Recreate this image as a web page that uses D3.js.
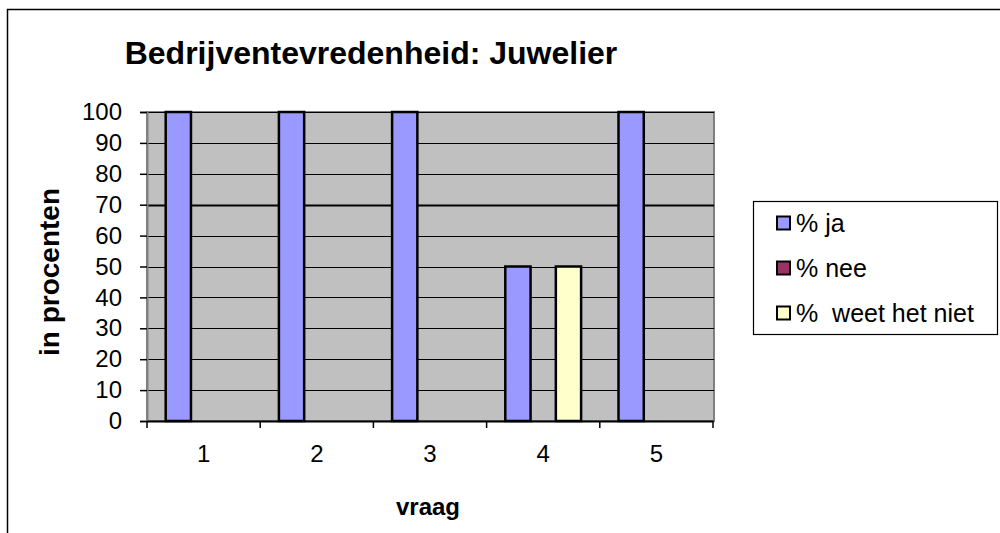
<!DOCTYPE html>
<html>
<head>
<meta charset="utf-8">
<script src="https://cdn.jsdelivr.net/npm/d3@7"></script>
<style>
  body { margin: 0; background: #fff; }
  text { font-family: Arial, "Liberation Sans", sans-serif; fill: #000; }
</style>
</head>
<body>
<div id="chart"></div>
<script>
// data
const vragen = ["1", "2", "3", "4", "5"];
const series = ["% ja", "% nee", "%  weet het niet"];
const ja = [100, 100, 100, 50, 100];
const nee = [0, 0, 0, 0, 0];
const weetNiet = [0, 0, 0, 50, 0];
const yTicks = [0, 10, 20, 30, 40, 50, 60, 70, 80, 90, 100];
const colors = ["#9999ff", "#993366", "#ffffcc"];

const width = 1000, height = 533;
const plot = {left: 147, right: 713, top: 112, bottom: 421};

const svg = d3.select("#chart").append("svg")
    .attr("width", width)
    .attr("height", height);

// outer frame
svg.append("rect")
    .attr("x", 7.5).attr("y", 9.5)
    .attr("width", 1100).attr("height", 600)
    .attr("fill", "none").attr("stroke", "#000").attr("stroke-width", 1.5);

// title
svg.append("text")
    .attr("x", 371).attr("y", 64)
    .attr("text-anchor", "middle")
    .style("font-size", "32px").style("font-weight", "bold")
    .text("Bedrijventevredenheid: Juwelier");

// scales
const x = d3.scaleBand().domain(vragen).range([plot.left, plot.right]);
const xSub = d3.scaleBand().domain(series).range([0, x.bandwidth()]).paddingOuter(0.74);
const y = d3.scaleLinear().domain([0, 100]).range([plot.bottom, plot.top]);

// plot area
svg.append("rect")
    .attr("x", plot.left).attr("y", plot.top)
    .attr("width", plot.right - plot.left + 1).attr("height", plot.bottom - plot.top)
    .attr("fill", "#c0c0c0").attr("stroke", "#808080").attr("stroke-width", 2);

// grid lines
svg.append("g").selectAll("line")
    .data(yTicks.filter(d => d > 0))
    .join("line")
    .attr("x1", plot.left).attr("x2", plot.right + 1)
    .attr("y1", d => Math.round(y(d)) + 0.5).attr("y2", d => Math.round(y(d)) + 0.5)
    .attr("stroke", "#000").attr("stroke-width", d => d === 70 ? 2 : 1.2);

// bars
const rows = vragen.map((v, i) => ({vraag: v, values: [ja[i], nee[i], weetNiet[i]]}));
const groups = svg.append("g").selectAll("g")
    .data(rows)
    .join("g")
    .attr("transform", d => `translate(${x(d.vraag)},0)`);

groups.selectAll("rect")
    .data(d => d.values.map((v, k) => ({key: series[k], value: v, color: colors[k]})).filter(d => d.value > 0))
    .join("rect")
    .attr("x", d => xSub(d.key))
    .attr("y", d => y(d.value))
    .attr("width", xSub.bandwidth())
    .attr("height", d => y(0) - y(d.value))
    .attr("fill", d => d.color)
    .attr("stroke", "#000").attr("stroke-width", 2.5);

// y axis
const yAxis = svg.append("g")
    .attr("transform", `translate(${plot.left},0)`)
    .call(d3.axisLeft(y).tickValues(yTicks).tickSize(7).tickPadding(18));
yAxis.select(".domain").attr("stroke", "#808080").attr("stroke-width", 2);
yAxis.selectAll(".tick line").attr("stroke-width", 1.5);
yAxis.selectAll("text").style("font-size", "24px");

// x axis
const xAxis = svg.append("g")
    .attr("transform", `translate(0,${plot.bottom})`)
    .call(d3.axisBottom(x).tickSize(0).tickPadding(24));
xAxis.select(".domain").attr("stroke", "#000").attr("stroke-width", 2);
xAxis.selectAll("text").style("font-size", "24px");
xAxis.append("g").selectAll("line")
    .data(d3.range(vragen.length + 1))
    .join("line")
    .attr("x1", i => plot.left + i * x.step()).attr("x2", i => plot.left + i * x.step())
    .attr("y1", 0).attr("y2", 7)
    .attr("stroke", "#000").attr("stroke-width", 1.5);

// axis titles
svg.append("text")
    .attr("transform", "translate(59,272) rotate(-90)")
    .attr("text-anchor", "middle")
    .style("font-size", "28px").style("font-weight", "bold")
    .text("in procenten");

svg.append("text")
    .attr("x", 428).attr("y", 515)
    .attr("text-anchor", "middle")
    .style("font-size", "24px").style("font-weight", "bold")
    .text("vraag");

// legend
const legend = svg.append("g");
legend.append("rect")
    .attr("x", 753.5).attr("y", 201.5)
    .attr("width", 244).attr("height", 133)
    .attr("fill", "#fff").attr("stroke", "#000").attr("stroke-width", 1.2);

const legendY = [223, 268, 313];
const item = legend.selectAll(".item")
    .data(series)
    .join("g")
    .attr("class", "item")
    .attr("transform", (d, i) => `translate(777,${legendY[i]})`);
item.append("rect")
    .attr("x", 0).attr("y", -6.5)
    .attr("width", 13).attr("height", 13)
    .attr("fill", (d, i) => colors[i])
    .attr("stroke", "#000").attr("stroke-width", 2);
item.append("text")
    .attr("x", 19).attr("y", 8.5)
    .style("font-size", "25px")
    .style("white-space", "pre")
    .text(d => d);
</script>
</body>
</html>
